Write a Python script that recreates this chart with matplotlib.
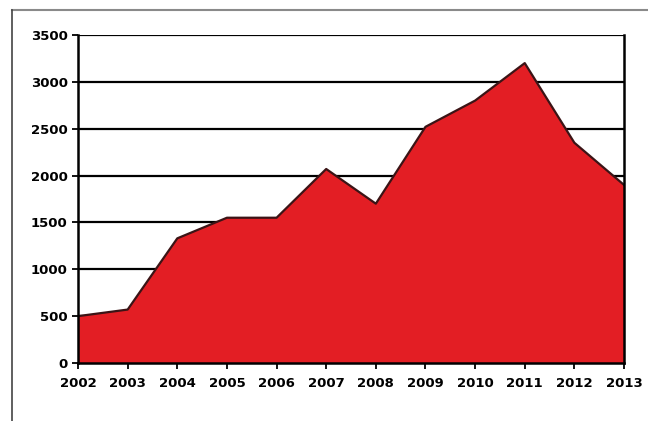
import matplotlib
matplotlib.use("Agg")
import matplotlib.pyplot as plt
from matplotlib.lines import Line2D

years = [2002, 2003, 2004, 2005, 2006, 2007, 2008, 2009, 2010, 2011, 2012, 2013]
values = [500, 570, 1330, 1550, 1550, 2070, 1700, 2520, 2800, 3200, 2350, 1900]
yticks = [0, 500, 1000, 1500, 2000, 2500, 3000, 3500]

plt.rcParams['font.family'] = 'DejaVu Sans'
plt.rcParams['font.weight'] = 'bold'

fig = plt.figure(figsize=(6.48, 4.21), dpi=100)
ax = fig.add_axes([0.1204, 0.1378, 0.963 - 0.1204, 0.9169 - 0.1378])

# horizontal grid lines
for v in yticks[1:]:
    ax.axhline(v, color='black', linewidth=1.6, zorder=1)

ax.fill_between(years, values, 0, facecolor='#e31e24', edgecolor='none', zorder=2)
ax.plot(years, values, color='#3b1416', linewidth=1.6, zorder=3)

ax.set_xlim(2002, 2013)
ax.set_ylim(0, 3500)
ax.set_xticks(years)
ax.set_yticks(yticks)
ax.tick_params(axis='both', labelsize=9.5, colors='black', width=1.3, length=4, direction='out')
ax.tick_params(axis='x', pad=6)

for side in ['left', 'right', 'bottom']:
    ax.spines[side].set_linewidth(1.8)
    ax.spines[side].set_zorder(4)
ax.spines['top'].set_visible(False)

# scanned frame around the chart
fig.add_artist(Line2D([12 / 648, 1.0], [1 - 10 / 421, 1 - 10 / 421], color='#8a8a8a', linewidth=1.5))
fig.add_artist(Line2D([12 / 648, 12 / 648], [0, 1 - 10 / 421], color='#444444', linewidth=1.2))

fig.savefig('out.png', dpi=100)
